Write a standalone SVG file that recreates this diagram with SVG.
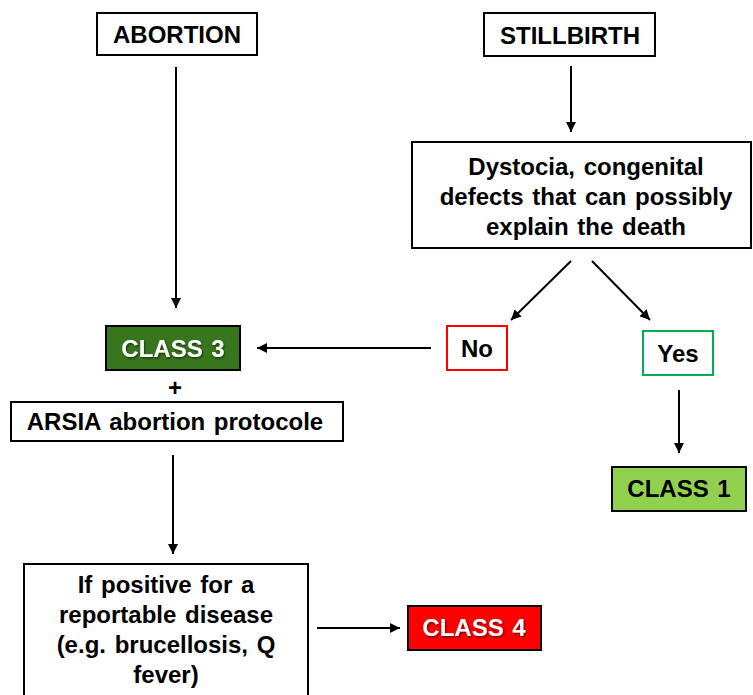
<svg xmlns="http://www.w3.org/2000/svg" width="753" height="695" viewBox="0 0 753 695">
  <defs>
    <marker id="arrow" viewBox="0 0 10 10" refX="10" refY="5" markerWidth="5" markerHeight="5" markerUnits="strokeWidth" orient="auto">
      <path d="M0,0 L10,5 L0,10 Z" fill="#000"/>
    </marker>
    <filter id="shadow" x="-10%" y="-20%" width="130%" height="150%">
      <feDropShadow dx="1" dy="1.5" stdDeviation="0.8" flood-color="#000" flood-opacity="0.55"/>
    </filter>
  </defs>
  <style>
    .box { fill: #fff; stroke: #000; stroke-width: 2; }
    .lbl { font-family: "Liberation Sans", Arial, sans-serif; font-weight: bold; font-size: 24px; text-anchor: middle; fill: #000; word-spacing: 2px; }
    .white { fill: #fff; }
    .edge { stroke: #000; stroke-width: 2; fill: none; marker-end: url(#arrow); }
  </style>
  <rect width="753" height="695" fill="#fff"/>

  <g id="connectors">
    <line class="edge" x1="176" y1="67" x2="176" y2="308"/>
    <line class="edge" x1="571" y1="66" x2="571" y2="132"/>
    <line class="edge" x1="571" y1="261" x2="511" y2="320"/>
    <line class="edge" x1="592" y1="261" x2="650" y2="320"/>
    <line class="edge" x1="431" y1="348" x2="257" y2="348"/>
    <line class="edge" x1="679" y1="390" x2="679" y2="453"/>
    <line class="edge" x1="173" y1="455" x2="173" y2="554"/>
    <line class="edge" x1="317" y1="628" x2="400" y2="628"/>
  </g>

  <g id="abortion">
    <rect class="box" x="97" y="13" width="160" height="42"/>
    <text class="lbl" x="177" y="43">ABORTION</text>
  </g>

  <g id="stillbirth">
    <rect class="box" x="484" y="13" width="171" height="43"/>
    <text class="lbl" x="570" y="44">STILLBIRTH</text>
  </g>

  <g id="dystocia">
    <rect class="box" x="412" y="142" width="339" height="106"/>
    <text class="lbl" x="586" y="175">Dystocia, congenital</text>
    <text class="lbl" x="586" y="205">defects that can possibly</text>
    <text class="lbl" x="586" y="235">explain the death</text>
  </g>

  <g id="class3">
    <rect x="106" y="326" width="134" height="44" fill="#38761d" stroke="#000" stroke-width="2"/>
    <text class="lbl white" x="173" y="357" filter="url(#shadow)">CLASS 3</text>
  </g>

  <g id="plus">
    <text class="lbl" x="175" y="396">+</text>
  </g>

  <g id="no">
    <rect x="447" y="326" width="60" height="44" fill="#fff" stroke="#ff0000" stroke-width="2"/>
    <text class="lbl" x="477" y="357">No</text>
  </g>

  <g id="yes">
    <rect x="643" y="331" width="70" height="44" fill="#fff" stroke="#00b050" stroke-width="2"/>
    <text class="lbl" x="678" y="362">Yes</text>
  </g>

  <g id="arsia">
    <rect class="box" x="11" y="402" width="332" height="39"/>
    <text class="lbl" x="175" y="430">ARSIA  abortion protocole</text>
  </g>

  <g id="class1">
    <rect x="612" y="467" width="134" height="44" fill="#92d050" stroke="#000" stroke-width="2"/>
    <text class="lbl" x="679" y="497">CLASS 1</text>
  </g>

  <g id="reportable">
    <rect class="box" x="24" y="564" width="284" height="140"/>
    <text class="lbl" x="166" y="593">If positive for a</text>
    <text class="lbl" x="166" y="623">reportable disease</text>
    <text class="lbl" x="166" y="653">(e.g. brucellosis, Q</text>
    <text class="lbl" x="166" y="683">fever)</text>
  </g>

  <g id="class4">
    <rect x="408" y="606" width="133" height="44" fill="#ff0000" stroke="#000" stroke-width="2"/>
    <text class="lbl white" x="474" y="636" filter="url(#shadow)">CLASS 4</text>
  </g>
</svg>
